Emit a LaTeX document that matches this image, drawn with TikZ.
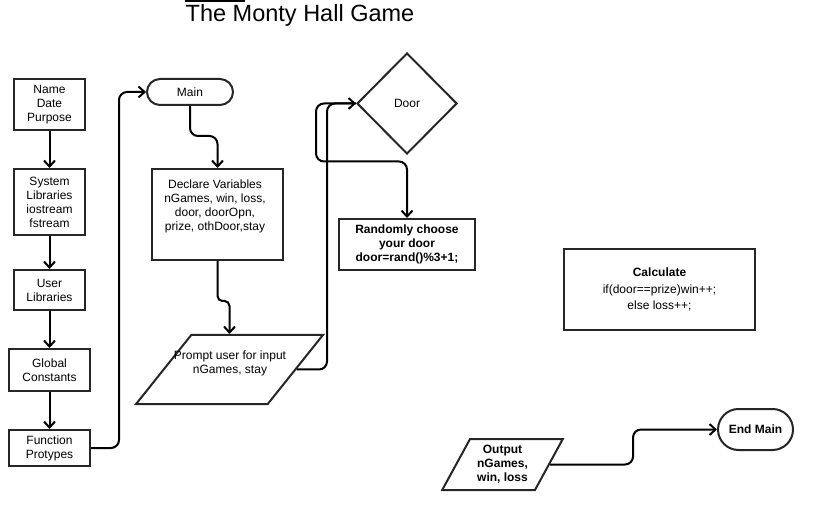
\documentclass[tikz,border=0pt]{standalone}
\usepackage{fontspec}
\setmainfont{Liberation Sans}
\usetikzlibrary{shapes.geometric,arrows.meta}
\tikzset{
  fs/.style={font=\fontsize{12}{14}\selectfont},
  box/.style={draw=black!85, line width=2pt, rectangle, inner sep=0pt, align=center, fs},
  pill/.style={box, rounded corners=#1},
  para/.style={draw=black!85, line width=2pt, trapezium, trapezium stretches=true, inner sep=0pt, align=center, fs},
  dia/.style={draw=black!85, line width=2pt, diamond, inner sep=0pt, align=center, fs},
  txt/.style={inner sep=0pt, align=center, fs},
  conn/.style={line width=2pt, rounded corners=8pt, -{Straight Barb[length=6pt,width=11pt]}}
}
\begin{document}
\begin{tikzpicture}[x=1pt,y=-1pt]
\useasboundingbox (0,0) rectangle (819,510);
% title
\node[inner sep=0pt, anchor=base, font=\fontsize{23.5}{27}\selectfont] (title) at (300,22) {The Monty Hall Game};
\draw[line width=2pt] (185,1.2) -- (245,1.2);
% left column
\node[box, minimum width=71, minimum height=51] (ndp) at (49.5,104.5) {Name\\Date\\Purpose};
\node[box, minimum width=71, minimum height=66] (sys) at (49.5,202) {System\\Libraries\\iostream\\fstream};
\node[box, minimum width=71, minimum height=40] (usr) at (49.5,290) {User\\Libraries};
\node[box, minimum width=81, minimum height=42] (glob) at (49.5,370) {Global\\Constants};
\node[box, minimum width=81, minimum height=36] (fp) at (49.5,448) {Function\\Protypes};
\draw[conn] (ndp.south) -- (sys.north);
\draw[conn] (sys.south) -- (usr.north);
\draw[conn] (usr.south) -- (glob.north);
\draw[conn] (glob.south) -- (fp.north);
% main column
\node[pill=13pt, minimum width=86, minimum height=26] (main) at (190,92) {Main};
\node[box, minimum width=131, minimum height=91] (decl) at (217.5,214.5) {};
\node[txt] (decltxt) at (215,206.7) {Declare Variables\\nGames, win, loss,\\door, doorOpn,\\prize, othDoor,stay};
\node[para, trapezium left angle=55.7, trapezium right angle=124.3, minimum width=187, minimum height=69] (prompt) at (229.5,369.5) {\phantom{x}};
\node[txt] (prompttxt) at (230,363) {Prompt user for input\\nGames, stay};
\draw[conn] (fp.east) -- ++(28,0) |- (main.west);
\draw[conn] (main.south) -- ++(0,30) -| (decl.north);
\draw[conn, rounded corners=5pt] (decl.south) -- ++(0,40) -| (prompt.north);
% door
\node[dia, minimum width=100, minimum height=101] (door) at (407,103.5) {Door};
\node[box, minimum width=136, minimum height=51, font=\fontsize{12}{14}\selectfont\bfseries] (rand) at (407,244.5) {Randomly choose\\your door\\door=rand()\%3+1;};
\draw[conn] (prompt.east) -| ([xshift=-29pt]door.west) -- (door.west);
\draw[conn] (door.west) -- ++(-40,0) -- ++(0,58) -| (rand.north);
% calculate
\node[box, minimum width=191, minimum height=81, font=\fontsize{12}{16.5}\selectfont] (calc) at (659.5,289.5) {\textbf{Calculate}\\if(door==prize)win++;\\else loss++;};
% output / end
\node[para, trapezium left angle=60.4, trapezium right angle=119.6, minimum width=121, minimum height=51, font=\fontsize{12}{14}\selectfont\bfseries] (out) at (502.5,464.5) {Output\\nGames,\\win, loss};
\node[pill=20.5pt, minimum width=75, minimum height=41, font=\fontsize{12}{14}\selectfont\bfseries] (endm) at (755.5,429.5) {End Main};
\draw[conn] (out.east) -- ++(83,0) |- (endm.west);
\end{tikzpicture}
\end{document}
